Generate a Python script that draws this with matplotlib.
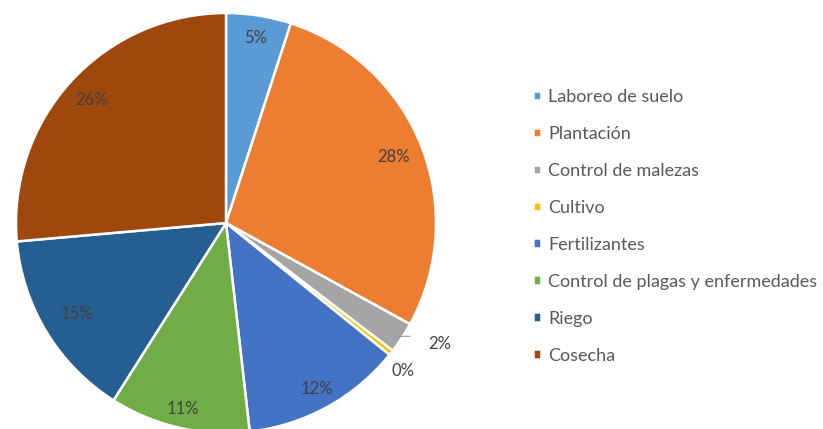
import numpy as np
import matplotlib
matplotlib.use("Agg")
import matplotlib.pyplot as plt

categories = ["Laboreo de suelo", "Plantación", "Control de malezas", "Cultivo",
              "Fertilizantes", "Control de plagas y enfermedades", "Riego", "Cosecha"]
values = [5.0, 28.0, 2.4, 0.4, 12.4, 10.8, 14.6, 26.4]
colors = ["#5B9BD5", "#ED7D31", "#A5A5A5", "#FFC000",
          "#4472C4", "#70AD47", "#255E91", "#9E480E"]
label_r = [0.89, 0.86, 1.17, 1.10, 0.90, 0.91, 0.83, 0.87]
label_dang = [0, 0, 3.5, -1.7, 0, 0, 0, 0]

plt.rcParams['font.family'] = ['Lato', 'DejaVu Sans']

FW, FH = 823, 429
fig = plt.figure(figsize=(FW / 100, FH / 100), dpi=100)
cx, cy, R = 226, 223, 210
lim = 1.3
S = 2 * R * lim
ax = fig.add_axes([(cx - S / 2) / FW, ((FH - cy) - S / 2) / FH, S / FW, S / FH])

wedges, _ = ax.pie(values, colors=colors, startangle=90, counterclock=False,
                   radius=1.0, wedgeprops=dict(edgecolor="white", linewidth=1.8))
ax.set_xlim(-lim, lim)
ax.set_ylim(-lim, lim)
ax.set_aspect('equal')
ax.axis('off')

total = sum(values)
for i, (w, v) in enumerate(zip(wedges, values)):
    mid = (w.theta1 + w.theta2) / 2
    ang = np.deg2rad(mid + label_dang[i])
    r = label_r[i]
    x, y = r * np.cos(ang), r * np.sin(ang)
    txt = f"{v / total * 100:.0f}%"
    if i == 2:
        ea = np.deg2rad(mid)
        ex, ey = 0.99 * np.cos(ea), 0.99 * np.sin(ea)
        ax.annotate(txt, xy=(ex, ey), xytext=(x, y), ha='center', va='center',
                    fontsize=12, color="#404040",
                    arrowprops=dict(arrowstyle='-', color="#A6A6A6", lw=0.9,
                                    shrinkA=11, shrinkB=0,
                                    connectionstyle="arc3,rad=0.15"))
    else:
        ax.text(x, y, txt, ha='center', va='center', fontsize=12, color="#404040")

leg = fig.legend(wedges, categories, loc='upper left',
                 bbox_to_anchor=(533 / FW, (FH - 89) / FH), frameon=False,
                 fontsize=13, labelcolor="#595959",
                 handlelength=0.45, handleheight=0.45, handletextpad=0.4,
                 labelspacing=1.16, borderaxespad=0, borderpad=0)

fig.savefig("out.png", dpi=100, facecolor="white")
